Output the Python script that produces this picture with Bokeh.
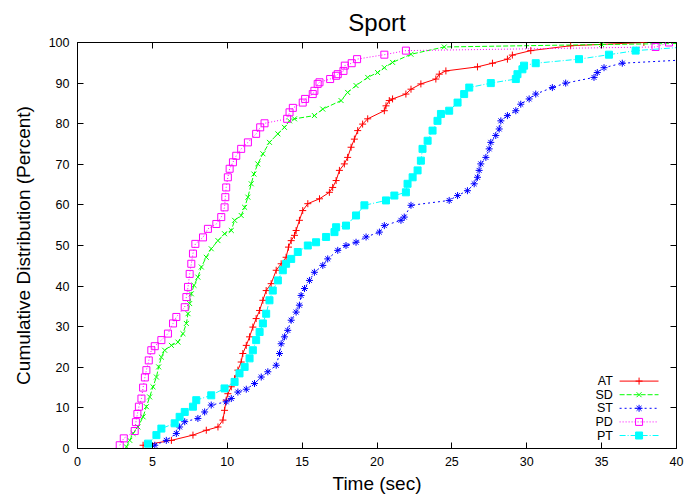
from bokeh.plotting import figure
from bokeh.models import Range1d, FixedTicker, LinearAxis
from bokeh.core.properties import value
from bokeh.embed import file_html
from bokeh.resources import INLINE

# ---------------- data ----------------
title_text = "Sport"
x_label = "Time (sec)"
y_label = "Cumulative Distribution (Percent)"
x_ticks = [0, 5, 10, 15, 20, 25, 30, 35, 40]
y_ticks = [0, 10, 20, 30, 40, 50, 60, 70, 80, 90, 100]

series_names = ["AT", "SD", "ST", "PD", "PT"]

at_t = [4.38, 6.27, 7.71, 8.6, 9.38, 9.71, 9.82, 9.93, 10.04, 10.27, 10.49, 10.71, 10.93, 11.04, 11.27,
        11.49, 11.71, 11.93, 12.16, 12.38, 12.6, 12.93, 13.27, 13.6, 13.93, 14.09, 14.27, 14.49, 14.6, 14.82,
        15.04, 15.38, 16.16, 16.82, 17.04, 17.27, 17.49, 17.82, 18.04, 18.27, 18.49, 18.71, 19.04, 19.38, 20.49,
        20.6, 20.82, 21.04, 21.93, 22.27, 22.93, 23.93, 24.16, 24.6, 26.71, 27.71, 28.71, 29.04, 30.27, 32.93,
        37.82]
at_p = [0.8, 2.0, 3.3, 4.5, 5.3, 7.0, 9.4, 11.9, 13.5, 15.2, 17.2, 19.3, 21.3, 23.4, 25.4,
        27.5, 29.9, 32.0, 34.0, 36.5, 38.9, 40.6, 43.9, 45.5, 47.1, 49.6, 51.2, 52.5, 53.7, 56.2,
        58.6, 60.3, 61.5, 63.1, 64.3, 66.0, 68.5, 70.1, 71.7, 74.2, 76.2, 78.3, 79.9, 81.2, 83.2,
        84.4, 85.7, 86.1, 87.3, 88.5, 89.8, 91.0, 92.2, 93.0, 94.0, 94.9, 95.9, 96.9, 98.0, 99.2,
        100.0]

sd_t = [3.27, 3.49, 3.71, 4.04, 4.38, 4.6, 4.82, 5.04, 5.27, 5.42, 5.6, 5.82, 6.27, 6.71, 7.04,
        7.27, 7.38, 7.49, 7.6, 7.78, 8.04, 8.27, 8.6, 8.93, 9.38, 9.82, 10.27, 10.49, 10.93, 11.16,
        11.38, 11.6, 11.78, 12.04, 12.38, 12.82, 13.38, 13.82, 14.16, 14.49, 15.82, 16.38, 17.6, 18.04, 18.6,
        19.38, 20.04, 20.49, 21.04, 22.27, 24.49, 35.0, 41.0]
sd_p = [0.4, 2.0, 3.7, 5.3, 7.8, 10.3, 12.7, 15.2, 17.6, 20.1, 22.5, 24.2, 25.4, 26.2, 28.3,
        30.8, 33.2, 35.7, 38.1, 40.2, 42.2, 44.7, 47.1, 49.2, 51.2, 52.9, 53.7, 56.2, 57.4, 59.4,
        61.9, 65.2, 67.6, 70.1, 72.6, 75.4, 77.5, 79.1, 80.7, 81.2, 82.0, 83.6, 85.7, 87.7, 89.4,
        91.4, 92.6, 93.8, 95.1, 97.1, 98.9, 99.5, 99.8]

st_t = [5.16, 5.93, 6.6, 6.82, 7.16, 8.04, 8.49, 8.93, 9.93, 10.27, 10.71, 11.27, 11.82, 12.27, 12.71,
        13.27, 13.49, 13.6, 13.82, 14.04, 14.27, 14.6, 14.82, 14.93, 15.16, 15.49, 15.82, 16.38, 16.71, 17.38,
        17.93, 18.6, 19.27, 20.16, 20.49, 21.6, 21.82, 22.27, 24.82, 25.38, 26.04, 26.49, 26.71, 26.82, 26.93,
        27.27, 27.49, 27.6, 27.93, 28.16, 28.27, 28.71, 29.27, 29.6, 30.16, 30.6, 31.71, 32.6, 34.49, 34.71,
        35.16, 36.38, 41.0]
st_p = [0.8, 2.0, 3.7, 5.3, 6.6, 7.4, 9.0, 10.7, 11.5, 12.3, 13.9, 14.6, 16.0, 17.6, 18.9,
        20.5, 23.4, 25.8, 27.5, 29.1, 31.6, 33.6, 35.3, 37.7, 39.4, 41.4, 43.4, 45.1, 46.7, 48.8,
        50.0, 50.8, 52.1, 53.3, 54.9, 56.2, 57.0, 59.9, 61.1, 62.3, 63.5, 65.2, 66.8, 68.5, 70.1,
        71.7, 73.8, 75.4, 77.1, 78.7, 80.7, 82.0, 83.2, 84.8, 86.1, 87.3, 88.9, 90.0, 91.4, 92.6,
        93.8, 94.9, 95.8]

pd_t = [2.82, 3.09, 3.82, 3.9, 4.0, 4.1, 4.27, 4.38, 4.5, 4.6, 4.76, 4.93, 5.16, 5.6, 6.04,
        6.38, 6.6, 7.16, 7.27, 7.38, 7.49, 7.6, 7.71, 7.87, 8.38, 8.71, 9.27, 9.6, 9.82, 9.87,
        9.93, 10.04, 10.16, 10.38, 10.6, 10.93, 11.38, 11.93, 12.2, 12.49, 14.0, 14.16, 14.38, 15.04, 15.2,
        15.71, 15.82, 16.04, 16.16, 16.87, 17.27, 17.38, 17.76, 17.85, 18.31, 18.67, 20.49, 21.93, 38.6, 39.5]
pd_p = [0.8, 2.5, 4.3, 6.5, 8.5, 10.3, 12.3, 15.0, 17.5, 19.3, 21.7, 24.2, 25.2, 26.7, 28.3,
        30.8, 32.4, 34.8, 37.3, 39.8, 43.0, 45.5, 48.0, 50.4, 52.0, 54.1, 55.3, 57.0, 59.4, 61.9,
        64.3, 66.8, 68.9, 70.5, 72.1, 73.8, 75.4, 77.5, 79.1, 80.1, 81.2, 82.8, 83.9, 85.2, 86.1,
        87.3, 88.1, 89.8, 90.2, 91.0, 91.8, 92.2, 93.0, 94.3, 94.9, 95.9, 97.0, 98.0, 98.9, 100.0]

pt_t = [4.71, 5.27, 5.6, 6.49, 6.82, 7.16, 7.71, 7.93, 8.93, 9.82, 10.49, 10.82, 11.16, 11.49, 11.71,
        11.93, 12.16, 12.38, 12.6, 12.82, 13.04, 13.38, 13.71, 13.93, 14.27, 14.71, 15.38, 15.93, 16.6, 17.16,
        17.27, 17.93, 18.6, 19.16, 20.6, 21.16, 21.93, 22.04, 22.38, 22.71, 22.93, 23.04, 23.38, 23.71, 24.04,
        24.27, 24.82, 25.38, 25.82, 26.16, 27.6, 29.27, 29.38, 29.71, 29.82, 30.6, 33.49, 35.49, 37.27, 41.0]
pt_p = [1.2, 3.3, 4.9, 6.2, 7.8, 9.0, 10.3, 11.9, 13.1, 14.8, 16.4, 18.5, 20.1, 22.2, 24.2,
        26.7, 28.7, 30.8, 33.2, 36.5, 38.9, 41.4, 43.9, 45.5, 46.7, 48.4, 50.0, 50.8, 52.1, 53.3,
        54.5, 54.9, 57.4, 59.9, 61.1, 62.3, 63.1, 65.2, 66.8, 68.5, 70.9, 73.8, 75.8, 78.3, 80.7,
        82.4, 83.2, 85.2, 87.3, 88.9, 90.0, 91.0, 92.2, 93.4, 94.3, 94.9, 95.9, 97.0, 98.0, 99.0]

series_t = [at_t, sd_t, st_t, pd_t, pt_t]
series_p = [at_p, sd_p, st_p, pd_p, pt_p]

# ---------------- styles ----------------
FONT = "Liberation Sans"
colors = ["#ff0000", "#00ff00", "#0000ff", "#ff00ff", "#00ffff"]
dashes = ["solid", "5 2", "2 3", "1 2", "6 2 1 2"]
markers = ["cross", "x", "asterisk", "square", "square"]
fills = [None, None, None, None, "#00ffff"]
MSIZE = 7

p = figure(width=687, height=498, x_range=Range1d(0, 40), y_range=Range1d(0, 100),
           output_backend="svg", toolbar_location=None,
           min_border_left=77, min_border_right=11, min_border_top=42, min_border_bottom=50)
p.background_fill_color = "white"
p.border_fill_color = "white"
p.grid.visible = False
p.outline_line_color = "black"
p.outline_line_width = 1
p.outline_line_alpha = 1

p.title.text = title_text
p.title.align = "center"
p.title.text_font = FONT
p.title.text_font_size = "24px"
p.title.text_font_style = "normal"
p.title.text_color = "black"
p.title.standoff = 13

for ax, ticks in ((p.xaxis[0], x_ticks), (p.yaxis[0], y_ticks)):
    ax.ticker = FixedTicker(ticks=ticks)
    ax.major_tick_in = 6
    ax.major_tick_out = 0
    ax.minor_tick_line_color = None
    ax.axis_line_color = "black"
    ax.major_tick_line_color = "black"
    ax.major_label_text_font = FONT
    ax.major_label_text_font_size = "12.5px"
    ax.major_label_text_color = "black"
    ax.axis_label_text_font = FONT
    ax.axis_label_text_font_size = "19px"
    ax.axis_label_text_font_style = "normal"
    ax.axis_label_text_color = "black"

p.xaxis[0].axis_label = x_label
p.yaxis[0].axis_label = y_label
p.xaxis[0].major_label_standoff = 8
p.yaxis[0].major_label_standoff = 8
p.xaxis[0].axis_label_standoff = 4
p.yaxis[0].axis_label_standoff = 12

# mirrored ticks on top and right (no labels)
for loc, ticks in (("above", x_ticks), ("right", y_ticks)):
    ax = LinearAxis(ticker=FixedTicker(ticks=ticks), major_tick_in=6, major_tick_out=0,
                    minor_tick_line_color=None, axis_line_color=None,
                    major_label_overrides={t: "" for t in ticks}, major_label_standoff=0,
                    major_tick_line_color="black")
    p.add_layout(ax, loc)

# series
for t, pc, c, d, m, f in zip(series_t, series_p, colors, dashes, markers, fills):
    p.line(t, pc, line_color=c, line_width=1, line_dash=d)
    p.scatter(t, pc, marker=m, size=MSIZE, line_color=c, line_width=1,
              fill_color=f, fill_alpha=1 if f else 0)

# key (bottom right, gnuplot style: label then sample)
LEG_TEXT_X = 35.75
LEG_LINE_X0 = 36.2
LEG_LINE_X1 = 38.8
LEG_MARK_X = 37.5
LEG_Y0 = 16.6
LEG_DY = 3.35
leg_y = [LEG_Y0 - i * LEG_DY for i in range(len(series_names))]
for yy, c, d, m, f in zip(leg_y, colors, dashes, markers, fills):
    p.line([LEG_LINE_X0, LEG_LINE_X1], [yy, yy], line_color=c, line_width=1, line_dash=d)
    p.scatter([LEG_MARK_X], [yy], marker=m, size=MSIZE, line_color=c, line_width=1,
              fill_color=f, fill_alpha=1 if f else 0)
p.text(x=[LEG_TEXT_X] * len(series_names), y=leg_y, text=series_names,
       text_align="right", text_baseline="middle",
       text_font=value(FONT), text_font_size="12.5px", text_color="black")

open("out.html", "w").write(file_html(p, INLINE))
